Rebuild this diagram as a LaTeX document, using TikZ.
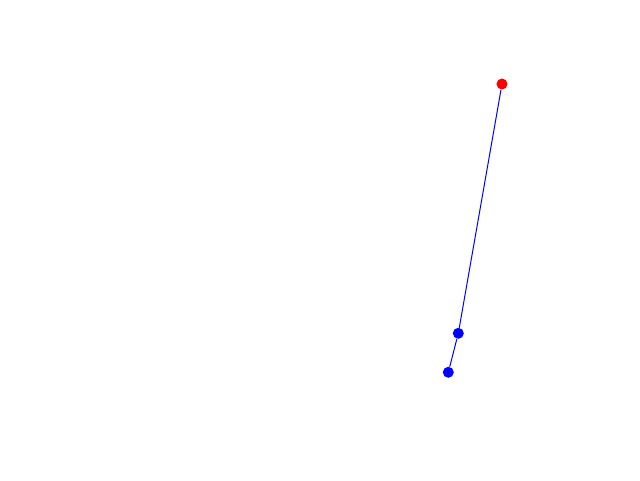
\documentclass[tikz,border=0pt]{standalone}
\tikzset{
  dotnode/.style={circle, inner sep=0pt, minimum size=11pt},
  link/.style={blue, line width=1pt}
}
\begin{document}
\begin{tikzpicture}[x=1pt,y=1pt]
\useasboundingbox (0,0) rectangle (640,480);
\node[dotnode, fill=red] (r) at (502,396) {};
\node[dotnode, fill=blue] (b1) at (458.3,146.7) {};
\node[dotnode, fill=blue] (b2) at (448.3,107.7) {};
\draw[link] (r) -- (b1);
\draw[link] (b1) -- (b2);
\end{tikzpicture}
\end{document}
